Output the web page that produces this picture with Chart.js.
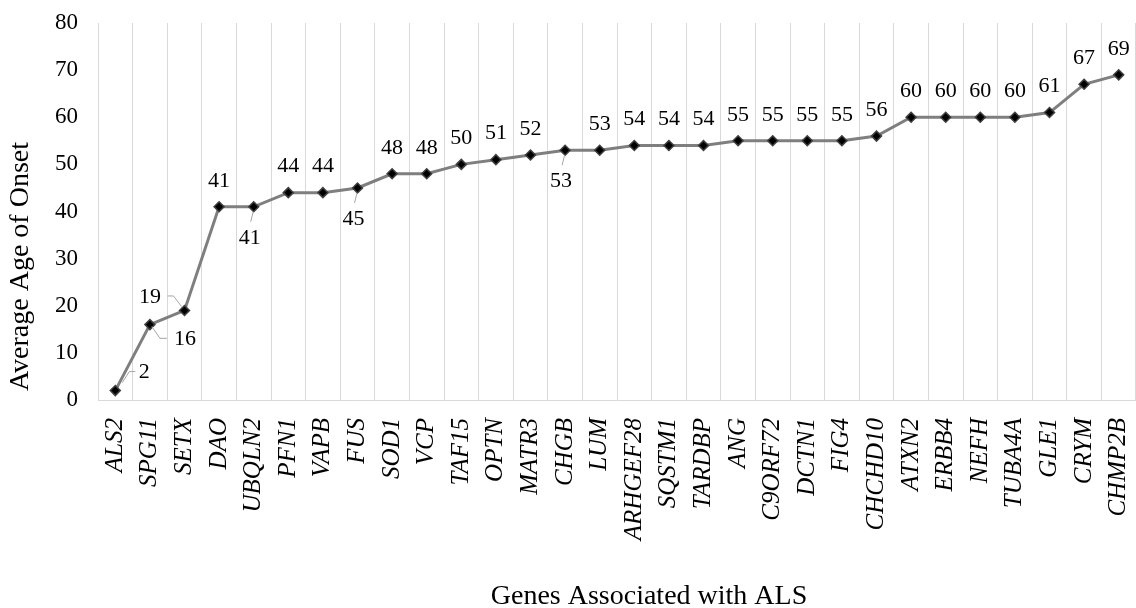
<!DOCTYPE html>
<html>
<head>
<meta charset="utf-8">
<style>
  html, body { margin: 0; padding: 0; background: #ffffff; }
  #wrap { width: 1136px; height: 608px; }
</style>
<script src="https://cdn.jsdelivr.net/npm/chart.js@4.4.1/dist/chart.umd.min.js"></script>
</head>
<body>
<div id="wrap"><canvas id="c" width="1136" height="608"></canvas></div>
<script>
// ---- data ----
const genes = ['ALS2','SPG11','SETX','DAO','UBQLN2','PFN1','VAPB','FUS','SOD1','VCP',
               'TAF15','OPTN','MATR3','CHGB','LUM','ARHGEF28','SQSTM1','TARDBP','ANG','C9ORF72',
               'DCTN1','FIG4','CHCHD10','ATXN2','ERBB4','NEFH','TUBA4A','GLE1','CRYM','CHMP2B'];
const onsetAges = [2,16,19,41,41,44,44,45,48,48,
                   50,51,52,53,53,54,54,54,55,55,
                   55,55,56,60,60,60,60,61,67,69];
const yTicks = [0,10,20,30,40,50,60,70,80];
const xTitle = 'Genes Associated with ALS';
const yTitle = 'Average Age of Onset';

const SERIF = "'Liberation Serif', 'Times New Roman', serif";

// point value labels drawn next to each marker
const valueLabelPlugin = {
  id: 'valueLabels',
  afterDatasetsDraw(chart, args, opts) {
    const ctx = chart.ctx;
    const meta = chart.getDatasetMeta(0);
    const values = chart.data.datasets[0].data;
    ctx.save();
    ctx.font = opts.font;
    ctx.textAlign = 'center';
    ctx.textBaseline = 'middle';
    meta.data.forEach((pt, i) => {
      const style = opts.styles[opts.placements[i] || 'above'];
      const x = pt.x, y = pt.y;
      if (style.leader) {
        ctx.beginPath();
        style.leader.forEach(([dx, dy], k) => {
          if (k === 0) ctx.moveTo(x + dx, y + dy); else ctx.lineTo(x + dx, y + dy);
        });
        ctx.strokeStyle = opts.leaderColor;
        ctx.lineWidth = 1;
        ctx.stroke();
      }
      ctx.fillStyle = opts.color;
      ctx.fillText(String(values[i]), x + style.dx, y + style.dy);
    });
    ctx.restore();
  }
};

// axis titles placed like the original (x title sits right of centre)
const axisTitlePlugin = {
  id: 'axisTitles',
  afterDraw(chart, args, opts) {
    const ctx = chart.ctx;
    const area = chart.chartArea;
    ctx.save();
    ctx.font = opts.font;
    ctx.fillStyle = opts.color;
    ctx.textAlign = 'center';
    ctx.textBaseline = 'alphabetic';
    ctx.fillText(opts.xText, (area.left + area.right) / 2 + opts.xShift, opts.xBaseline);
    ctx.translate(opts.yBaseline, (area.top + area.bottom) / 2 + opts.yShift);
    ctx.rotate(-Math.PI / 2);
    ctx.fillText(opts.yText, 0, 0);
    ctx.restore();
  }
};

new Chart(document.getElementById('c'), {
  type: 'line',
  data: {
    labels: genes,
    datasets: [{
      data: onsetAges,
      borderColor: '#7f7f7f',
      borderWidth: 3,
      tension: 0,
      fill: false,
      pointStyle: 'rectRot',
      pointRadius: 5,
      pointHoverRadius: 5,
      pointBackgroundColor: '#000000',
      pointBorderColor: '#404040',
      pointBorderWidth: 1.5
    }]
  },
  options: {
    responsive: false,
    animation: false,
    devicePixelRatio: 1,
    layout: { autoPadding: false, padding: { left: 4, top: 23, right: 0, bottom: 0 } },
    plugins: {
      legend: { display: false },
      tooltip: { enabled: false },
      axisTitles: {
        font: "28px " + SERIF,
        color: '#000000',
        xText: xTitle,
        yText: yTitle,
        xShift: 32,
        xBaseline: 604,
        yBaseline: 28,
        yShift: 55
      },
      valueLabels: {
        font: "22px " + SERIF,
        color: '#000000',
        leaderColor: '#a6a6a6',
        placements: { 0: 'rightUp', 1: 'belowRight', 2: 'aboveLeft', 4: 'below', 7: 'below', 13: 'below' },
        styles: {
          above: { dx: 0, dy: -26 },
          below: { dx: -4, dy: 31, leader: [[-0.5, 5], [-3, 15]] },
          rightUp: { dx: 29, dy: -18, leader: [[7, -8], [14, -19], [20, -19]] },
          belowRight: { dx: 35, dy: 14.5, leader: [[2, 2], [10, 13.7], [17, 13.7]] },
          aboveLeft: { dx: -34.5, dy: -13, leader: [[-17, -14.5], [-11, -14.5], [-3, -4]] }
        }
      }
    },
    scales: {
      x: {
        type: 'category',
        offset: true,
        grid: { display: true, offset: true, color: '#d9d9d9', lineWidth: 1, drawTicks: false },
        border: { display: true, color: '#d9d9d9', width: 1 },
        ticks: {
          autoSkip: false,
          maxRotation: 90,
          minRotation: 90,
          padding: 18,
          color: '#000000',
          font: { family: SERIF, size: 25, style: 'italic' }
        },
        title: { display: false },
        afterFit(scale) {
          scale.height = 208;
          scale.paddingLeft = 0;
          scale.paddingRight = 0;
        }
      },
      y: {
        min: yTicks[0],
        max: yTicks[yTicks.length - 1],
        grid: { display: false, drawTicks: false },
        border: { display: true, color: '#d9d9d9', width: 1 },
        afterBuildTicks(scale) { scale.ticks = yTicks.map(v => ({ value: v })); },
        ticks: {
          padding: 20,
          color: '#000000',
          font: { family: SERIF, size: 23 }
        },
        title: { display: false },
        afterFit(scale) {
          scale.width = 94;
          scale.paddingTop = 0;
          scale.paddingBottom = 0;
        }
      }
    }
  },
  plugins: [valueLabelPlugin, axisTitlePlugin]
});
</script>
</body>
</html>
